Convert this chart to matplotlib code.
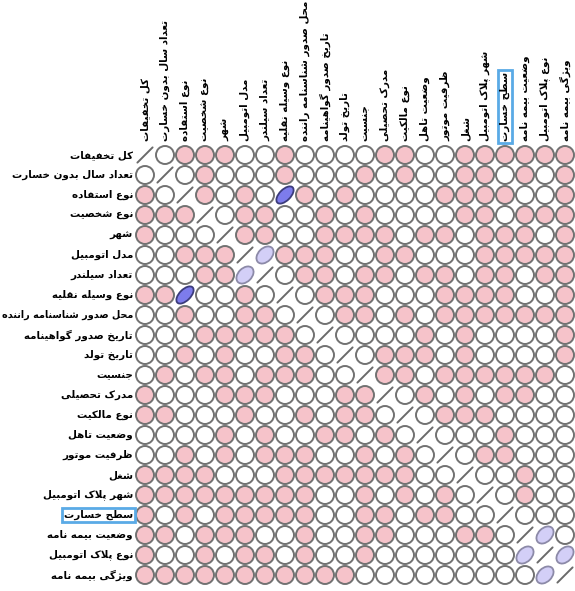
import numpy as np
import matplotlib
matplotlib.use("Agg")
import matplotlib.pyplot as plt
from matplotlib.patches import Circle, Ellipse
from matplotlib import font_manager
from matplotlib.ft2font import FT2Font

labels = [
    "کل تخفیفات", "تعداد سال بدون خسارت", "نوع استفاده", "نوع شخصیت", "شهر",
    "مدل اتومبیل", "تعداد سیلندر", "نوع وسیله نقلیه", "محل صدور شناسنامه راننده",
    "تاریخ صدور گواهینامه", "تاریخ تولد", "جنسیت", "مدرک تحصیلی", "نوع مالکیت",
    "وضعیت تاهل", "ظرفیت موتور", "شغل", "شهر پلاک اتومبیل", "سطح خسارت",
    "وضعیت بیمه نامه", "نوع پلاک اتومبیل", "ویژگی بیمه نامه",
]
highlight = "سطح خسارت"

# lower triangle of the matrix, row by row (p = pink circle, o = white circle,
# b = strong blue ellipse, l = light blue ellipse)
lower = [
    "o",
    "po",
    "ppp",
    "pooo",
    "ooppp",
    "oooppl",
    "ppboopo",
    "oopooppo",
    "ooopppppo",
    "oopopooppo",
    "opoppopppoo",
    "pooopppooopp",
    "ppooopoopoppo",
    "oooopopooppopo",
    "oopopopppoopopo",
    "ppppooopppppppoo",
    "pppppppppoopopopo",
    "popopppppooppoppoo",
    "ppopppoopooppoooppo",
    "poopoppopoopoooooool",
    "pppppppppppoooooooool",
]

# --- small persian shaper (matplotlib 3.10 draws glyphs without joining) ---
forms = {
    "ا": "\uFE8D\uFE8E", "د": "\uFEA9\uFEAA", "ر": "\uFEAD\uFEAE", "ز": "\uFEAF\uFEB0",
    "ژ": "\uFB8A\uFB8B", "و": "\uFEED\uFEEE",
    "ب": "\uFE8F\uFE90\uFE91\uFE92", "پ": "\uFB56\uFB57\uFB58\uFB59",
    "ت": "\uFE95\uFE96\uFE97\uFE98", "ج": "\uFE9D\uFE9E\uFE9F\uFEA0",
    "ح": "\uFEA1\uFEA2\uFEA3\uFEA4", "خ": "\uFEA5\uFEA6\uFEA7\uFEA8",
    "س": "\uFEB1\uFEB2\uFEB3\uFEB4", "ش": "\uFEB5\uFEB6\uFEB7\uFEB8",
    "ص": "\uFEB9\uFEBA\uFEBB\uFEBC", "ض": "\uFEBD\uFEBE\uFEBF\uFEC0",
    "ط": "\uFEC1\uFEC2\uFEC3\uFEC4", "ظ": "\uFEC5\uFEC6\uFEC7\uFEC8",
    "ع": "\uFEC9\uFECA\uFECB\uFECC", "غ": "\uFECD\uFECE\uFECF\uFED0",
    "ف": "\uFED1\uFED2\uFED3\uFED4", "ق": "\uFED5\uFED6\uFED7\uFED8",
    "ک": "\uFB8E\uFB8F\uFB90\uFB91", "گ": "\uFB92\uFB93\uFB94\uFB95",
    "ل": "\uFEDD\uFEDE\uFEDF\uFEE0", "م": "\uFEE1\uFEE2\uFEE3\uFEE4",
    "ن": "\uFEE5\uFEE6\uFEE7\uFEE8", "ه": "\uFEE9\uFEEA\uFEEB\uFEEC",
    "ی": "\uFBFC\uFBFD\uFBFE\uFBFF",
}
font_path = font_manager.findfont(font_manager.FontProperties(family="DejaVu Sans",
                                                              weight="bold"))
ft = FT2Font(font_path)


def has_glyph(ch):
    return ft.get_char_index(ord(ch)) != 0


def shape(text):
    out = []
    i = 0
    while i < len(text):
        ch = text[i]
        prev = text[i - 1] if i > 0 else " "
        prev_joins = prev in forms and len(forms[prev]) == 4 and not (
            prev == "ا" or (i > 1 and text[i - 2] == "ل" and prev == "ا"))
        if ch not in forms:
            out.append(ch)
            i += 1
            continue
        if ch == "ل" and i + 1 < len(text) and text[i + 1] == "ا":
            out.append("\uFEFC" if prev_joins else "\uFEFB")
            i += 2
            continue
        f = forms[ch]
        nxt = text[i + 1] if i + 1 < len(text) else " "
        next_joins = len(f) == 4 and nxt in forms
        if prev_joins and next_joins:
            g = f[3]
        elif prev_joins:
            g = f[1]
        elif next_joins:
            g = f[2]
        else:
            g = f[0]
        out.append(g if has_glyph(g) else ch)
        i += 1
    return "".join(out)[::-1]


n = len(labels)
code = np.full((n, n), "/", dtype="<U1")
for r, row in enumerate(lower, start=1):
    for c, ch in enumerate(row):
        code[r, c] = ch
        code[c, r] = ch

edge = "#727272"
fills = {"p": "#f6c3ca", "o": "white"}

fig = plt.figure(figsize=(5.75, 5.91), dpi=100)
ax = fig.add_axes([135 / 575, 6 / 591, 440 / 575, 440 / 591])
ax.set_xlim(0, n)
ax.set_ylim(n, 0)
ax.set_aspect("equal")
ax.axis("off")

for r in range(n):
    for c in range(n):
        k = code[r, c]
        cx, cy = c + 0.5, r + 0.5
        if k == "/":
            ax.plot([c + 0.12, c + 0.88], [r + 0.88, r + 0.12], color="#6a6a6a", lw=1.4,
                    solid_capstyle="round")
        elif k == "b":
            ax.add_patch(Ellipse((cx, cy), 1.08, 0.56, angle=-45, fc="#7d7ceb",
                                 ec="#3c3c7c", lw=1.3))
        elif k == "l":
            ax.add_patch(Ellipse((cx, cy), 1.0, 0.68, angle=-45, fc="#d3cff7",
                                 ec="#8c8aa8", lw=1.3))
        else:
            ax.add_patch(Circle((cx, cy), 0.45, fc=fills[k], ec=edge, lw=1.4))

box = dict(boxstyle="square,pad=0.2", fc="none", ec="#5aaae6", lw=2)
row_texts = []
for i, lab in enumerate(labels):
    kw = dict(bbox=box) if lab == highlight else {}
    t = ax.text(-0.1, i + 0.5, shape(lab), ha="right", va="center", fontsize=7.4,
                family="DejaVu Sans", weight="bold", **kw)
    row_texts.append(t)
    ax.text(i + 0.5, -0.2, shape(lab), ha="left", va="center", rotation=90,
            rotation_mode="anchor", fontsize=7.4, family="DejaVu Sans", weight="bold",
            **kw)

# shrink a row label that would run off the left edge
fig.canvas.draw()
renderer = fig.canvas.get_renderer()
for t in row_texts:
    bb = t.get_window_extent(renderer)
    if bb.x0 < 2:
        t.set_fontsize(t.get_fontsize() * (bb.x1 - 2) / bb.width)

fig.savefig("out.png", dpi=100, facecolor="white")
